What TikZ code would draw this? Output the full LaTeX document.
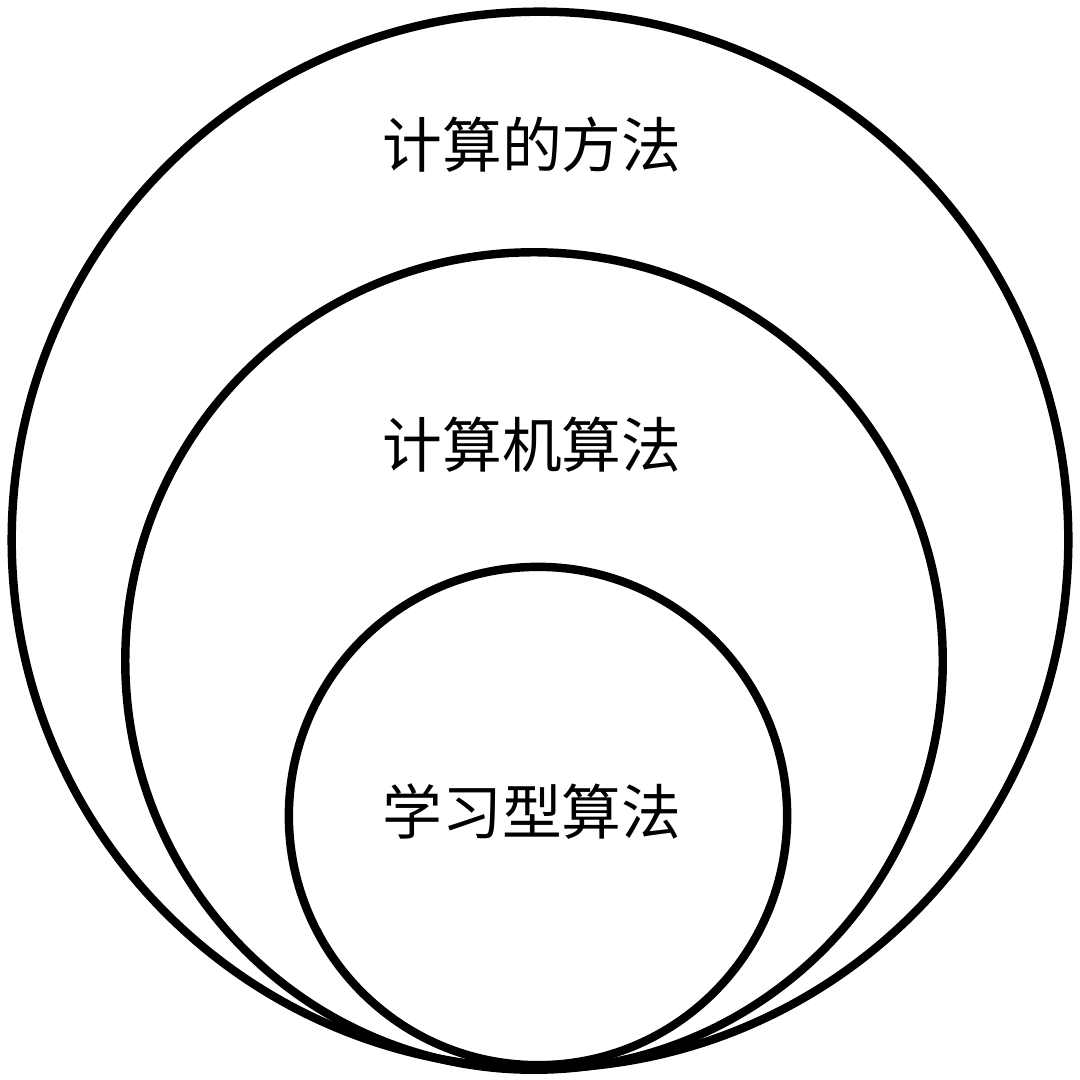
\documentclass[tikz,border=0pt]{standalone}
\usepackage{fontspec}
\newfontfamily\cjk{Noto Sans CJK SC}
\tikzset{
  ring/.style={draw,circle,line width=2.4pt,inner sep=0pt},
  label text/.style={font=\cjk\fontsize{17}{20}\selectfont}
}
\begin{document}
\begin{tikzpicture}[x=0.01cm,y=-0.01cm]
    \useasboundingbox (0,0) rectangle (1080,1080);
    \node[ring,minimum size=10.56cm] (outer) at (540,540) {};
    \node[ring,minimum size=8.17cm] (middle) at (534,661) {};
    \node[ring,minimum size=4.98cm] (inner) at (538,816) {};

    \node[label text] (method) at (532,145) {计算的方法};
    \node[label text] (algo) at (532,445) {计算机算法};
    \node[label text] (learn) at (532,812) {学习型算法};
\end{tikzpicture}
\end{document}
